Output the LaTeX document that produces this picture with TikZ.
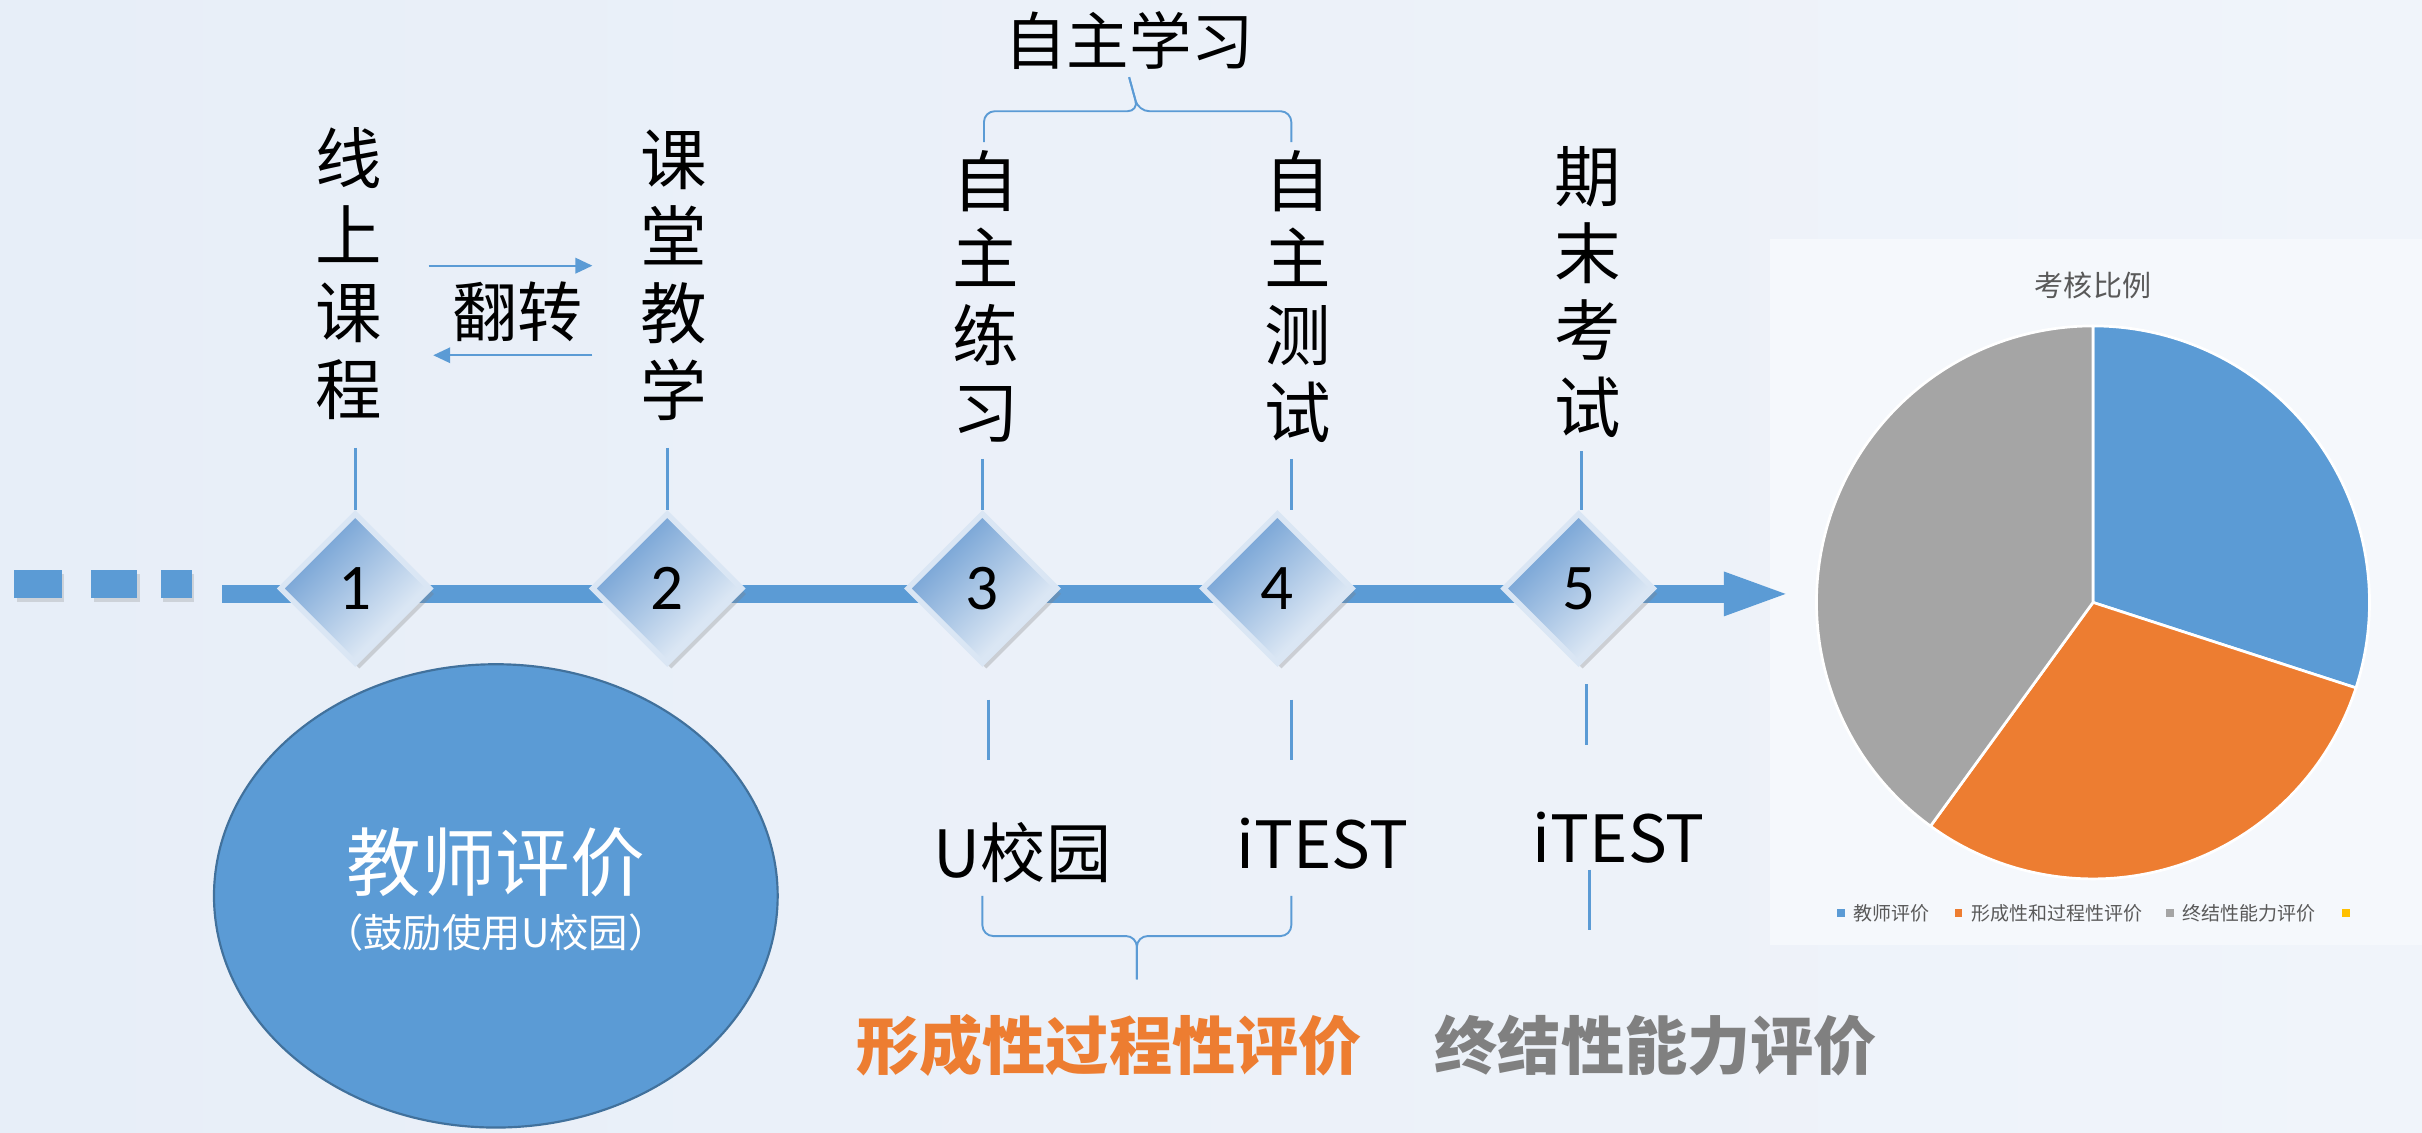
\documentclass[tikz,border=0pt]{standalone}
\usepackage{fontspec}
\setmainfont{Noto Sans CJK SC}
\newfontfamily\numfont{Carlito}
\usetikzlibrary{shapes.geometric,arrows.meta,shadows,positioning}

\definecolor{lineblue}{RGB}{91,155,213}
\definecolor{darkblue}{RGB}{65,113,156}
\definecolor{pieorange}{RGB}{237,125,49}
\definecolor{piegray}{RGB}{165,165,165}
\definecolor{pieyellow}{RGB}{255,192,0}
\definecolor{textgray}{RGB}{128,128,128}
\definecolor{legendgray}{RGB}{89,89,89}
\definecolor{bgleft}{RGB}{231,238,248}
\definecolor{bgright}{RGB}{240,244,250}
\definecolor{panelbg}{RGB}{245,248,252}
\definecolor{stagetop}{RGB}{104,154,209}
\definecolor{stagebottom}{RGB}{242,246,251}
\definecolor{stageedge}{RGB}{218,230,244}

\tikzset{
  stage/.style={diamond, minimum width=1.96cm, minimum height=1.96cm, inner sep=0pt,
    draw=stageedge, line width=2pt, shading=axis, top color=stagetop,
    bottom color=stagebottom, shading angle=45,
    drop shadow={shadow xshift=1.5pt, shadow yshift=-2pt, opacity=0.3},
    font=\numfont\fontsize{24}{24}\selectfont},
  vtext/.style={align=center, inner sep=0pt, font=\fontsize{24.5}{28.4}\selectfont},
  stagetext/.style={inner sep=0pt, font=\fontsize{24}{26}\selectfont},
  stemline/.style={lineblue, line width=1.2pt},
  bracket/.style={lineblue, line width=0.7pt, rounded corners=4pt},
  flip/.style={lineblue, line width=0.8pt, -{Triangle[length=0.22cm,width=0.2cm]}},
  dashbox/.style={fill=lineblue, minimum height=0.36cm, inner sep=0pt,
    drop shadow={shadow xshift=1pt, shadow yshift=-1.5pt, opacity=0.25}},
  legendbox/.style={minimum size=0.1cm, inner sep=0pt},
  legendtext/.style={font=\fontsize{7}{8}\selectfont, text=legendgray, inner sep=0pt}
}

\begin{document}
\begin{tikzpicture}[x=0.02cm,y=-0.02cm]
\shade[left color=bgleft, right color=bgright] (0,0) rectangle (1568,733);
\useasboundingbox (0,0) rectangle (1568,733);
\fill[panelbg] (1146,155) rectangle (1568,612);

% time line
\foreach \x/\w [count=\i] in {24.5/0.62,74/0.6,114/0.4}
  \node[dashbox, minimum width=\w cm] (dash\i) at (\x,378) {};
\coordinate (barstart) at (144,384.5);
\coordinate (bartip) at (1160,384.5);
\draw[lineblue, line width=0.24cm, -{Triangle[length=0.88cm,width=0.5cm]}] (barstart) -- (bartip);

\node[ellipse, fill=lineblue, draw=darkblue, line width=0.8pt,
  minimum width=7.3cm, minimum height=6cm] (teacher) at (321,580) {};
\node[inner sep=0pt, text=white, font=\fontsize{27.5}{30}\selectfont] (teachername) at (321,558) {教师评价};
\node[inner sep=0pt, text=white, font=\fontsize{14.5}{16}\selectfont] (teachernote) at (321,604) {（鼓励使用U校园）};

\foreach \x/\n in {230/1,432/2,636/3,827/4,1022/5}
  \node[stage] (d\n) at (\x,381) {\n};

% stages above the line
\node[vtext] (c1) at (226,177) {线\\上\\课\\程};
\node[vtext] (c2) at (436,178) {课\\堂\\教\\学};
\node[vtext] (c3) at (638,192) {自\\主\\练\\习};
\node[vtext] (c4) at (840,192) {自\\主\\测\\试};
\node[vtext] (c5) at (1028,189) {期\\末\\考\\试};

\foreach \n/\x/\y in {1/230/290,2/432/290,3/636/297,4/836/297,5/1024/292}{
  \coordinate (t\n) at (\x,\y);
  \draw[stemline] (t\n) -- (t\n |- d\n.north);
}

\node[stagetext] (flipnode) at (335,202) {翻转};
\draw[flip] ([xshift=-0.3cm,yshift=0.6cm]flipnode.west) -- ([xshift=0.12cm,yshift=0.6cm]flipnode.east);
\draw[flip] ([xshift=0.12cm,yshift=-0.56cm]flipnode.east) -- ([xshift=-0.24cm,yshift=-0.56cm]flipnode.west);

\node[inner sep=0pt, font=\fontsize{23}{25}\selectfont] (selfstudy) at (731,26) {自主学习};
\coordinate (topL) at (637,92);
\coordinate (topR) at (836,92);
\coordinate (topM) at (737,72);
\draw[bracket] (topL) |- (topM) -- (selfstudy.south |- 0,50);
\draw[bracket] (topR) |- (topM) -- (selfstudy.south |- 0,50);

% below the line
\node[stagetext] (ucampus) at (662,552) {U校园};
\node[stagetext] (itest1) at (856,546) {iTEST};
\node[stagetext] (itest2) at (1048,542) {iTEST};

\foreach \n/\x/\ya/\yb in {3/640/453/492,4/836/453/492,5/1027/443/482,6/1029/563/602}{
  \coordinate (s\n) at (\x,\ya);
  \coordinate (e\n) at (\x,\yb);
  \draw[stemline] (s\n) -- (e\n);
}

\coordinate (botL) at (636,580);
\coordinate (botR) at (836,580);
\coordinate (botM) at (736,606);
\coordinate (botTip) at (736,634);
\draw[bracket] (botL) |- (botM) -- (botTip);
\draw[bracket] (botR) |- (botM) -- (botTip);

\node[inner sep=0pt, text=pieorange, font=\bfseries\fontsize{23.3}{25}\selectfont] (formative) at (718,677) {形成性过程性评价};
\node[inner sep=0pt, text=textgray, font=\bfseries\fontsize{23.3}{25}\selectfont] (summative) at (1072,677) {终结性能力评价};

% pie chart
\node[inner sep=0pt, text=legendgray, font=\fontsize{10.7}{12}\selectfont] (pietitle) at (1355,185) {考核比例};
\coordinate (piec) at (1355,390);
\filldraw[fill=lineblue, draw=white, line width=1pt] (piec) -- ++(-90:179) arc[start angle=-90, end angle=18, radius=179] -- cycle;
\filldraw[fill=pieorange, draw=white, line width=1pt] (piec) -- ++(18:179) arc[start angle=18, end angle=126, radius=179] -- cycle;
\filldraw[fill=piegray, draw=white, line width=1pt] (piec) -- ++(126:179) arc[start angle=126, end angle=270, radius=179] -- cycle;

\foreach \x/\c/\t [count=\i] in {1192/lineblue/教师评价,1268/pieorange/形成性和过程性评价,1405/piegray/终结性能力评价}{
  \node[legendbox, fill=\c] (lb\i) at (\x,591) {};
  \node[legendtext, right=0.1cm of lb\i] (lt\i) {\t};
}
\node[legendbox, fill=pieyellow] (lb4) at (1519,591) {};
\end{tikzpicture}
\end{document}
